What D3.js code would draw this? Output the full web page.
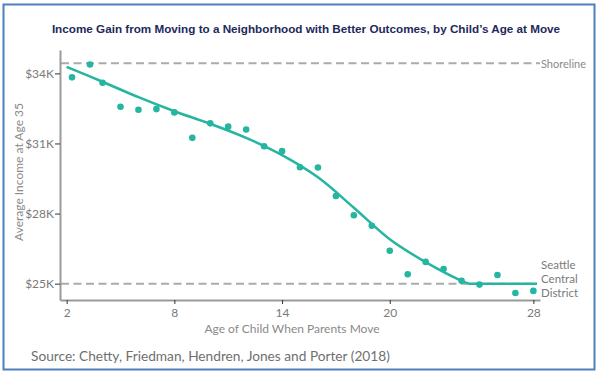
<!DOCTYPE html>
<html>
<head>
<meta charset="utf-8">
<script src="https://cdn.jsdelivr.net/npm/d3@7"></script>
<style>
  body { margin: 0; background: #fff; }
  svg text { font-family: Lato, "Open Sans", sans-serif; }
</style>
</head>
<body>
<svg id="chart" width="600" height="375"></svg>
<script>
// data
const ages = [2.3, 3.3, 4, 5, 6, 7, 8, 9, 10, 11, 12, 13, 14, 15, 16, 17, 18, 19, 20, 21, 22, 23, 24, 25, 26, 27, 28];
const incomes = [33.83, 34.38, 33.60, 32.57, 32.44, 32.47, 32.33, 31.24, 31.86, 31.72, 31.60, 30.88, 30.67,
  29.98, 29.97, 28.75, 27.93, 27.48, 26.41, 25.40, 25.93, 25.63, 25.12, 24.96, 25.37, 24.60, 24.69];

// fitted curve (curved part, then flat at the floor)
const fitAges = [2, 4, 6, 8, 10, 12, 14, 16, 18, 20, 22, 24, 24.4];
const fitIncomes = [34.28, 33.64, 32.98, 32.38, 31.84, 31.24, 30.50, 29.55, 28.25, 26.90, 25.92, 25.12, 25.0];
const flatAges = [24.4, 28.2];
const flatIncomes = [25.0, 25.0];

const xTicks = [2, 8, 14, 20, 28];
const yTicks = [25, 28, 31, 34];

const shorelineValue = 34.43;
const centralValue = 25;

const teal = "#26b5a0";
const svg = d3.select("#chart");

// frame
svg.append("rect")
  .attr("x", 3.5).attr("y", 4.5).attr("width", 591).attr("height", 365)
  .attr("fill", "none").attr("stroke", "#4f7fbd").attr("stroke-width", 2);

svg.append("text")
  .attr("x", 306).attr("y", 33)
  .attr("text-anchor", "middle")
  .style("font-family", "'Liberation Sans', Arial, sans-serif")
  .style("font-weight", "bold")
  .style("font-size", "11.7px")
  .attr("fill", "#1d2a5c")
  .text("Income Gain from Moving to a Neighborhood with Better Outcomes, by Child\u2019s Age at Move");

let xScale = d3.scaleLinear().domain([1.63, 28.37]).range([60, 540]);
let yScale = d3.scaleLinear().domain([24.3, 35]).range([300, 50]);

// reference lines
const refs = [shorelineValue, centralValue];
svg.selectAll(".ref")
  .data(refs)
  .join("line")
  .attr("class", "ref")
  .attr("x1", 61)
  .attr("x2", (d, i) => i == 0 ? 540 : 537)
  .attr("y1", d => yScale(d))
  .attr("y2", d => yScale(d))
  .attr("stroke", "#ababab")
  .attr("stroke-width", 2)
  .attr("stroke-dasharray", "8,4.5");

// axes
let yAxis = svg.append("g")
  .attr("transform", "translate(60,0)")
  .call(d3.axisLeft(yScale).tickValues(yTicks).tickSize(5).tickSizeOuter(0).tickFormat(d => "$" + d + "K"));
let xAxis = svg.append("g")
  .attr("transform", "translate(0,300)")
  .call(d3.axisBottom(xScale).tickValues(xTicks).tickSize(4).tickSizeOuter(0));

[yAxis, xAxis].forEach(function (ax) {
  ax.select(".domain").attr("stroke", "#9a9a9a").attr("stroke-width", 2);
  ax.selectAll(".tick line").attr("stroke", "#333");
  ax.selectAll(".tick text")
    .attr("fill", "#7a7a7a")
    .style("font-family", "Lato, sans-serif")
    .style("font-size", "12px");
});
yAxis.selectAll(".tick text").attr("x", -6);
xAxis.selectAll(".tick text").attr("y", 8);

svg.append("text")
  .attr("transform", "translate(23,172) rotate(-90)")
  .attr("text-anchor", "middle")
  .attr("fill", "#8a8a8a")
  .style("font-size", "12px")
  .text("Average Income at Age 35");

svg.append("text")
  .attr("x", 292).attr("y", 333)
  .attr("text-anchor", "middle")
  .attr("fill", "#8a8a8a")
  .style("font-size", "12px")
  .text("Age of Child When Parents Move");

svg.append("text")
  .attr("x", 31).attr("y", 361)
  .attr("fill", "#6f6f6f")
  .style("font-size", "13.7px")
  .text("Source: Chetty, Friedman, Hendren, Jones and Porter (2018)");

svg.append("text")
  .attr("x", 541).attr("y", 67.5)
  .attr("fill", "#8a8a8a")
  .style("font-size", "11px")
  .text("Shoreline");

svg.append("text")
  .attr("fill", "#7a7a7a")
  .style("font-size", "11.5px")
  .selectAll("tspan")
  .data(["Seattle", "Central", "District"])
  .join("tspan")
  .attr("x", 541)
  .attr("y", (d, i) => 269 + i * 14)
  .text(d => d);

// fitted line: smooth part + flat part
const fitLine = d3.line()
  .x(d => xScale(d[0]))
  .y(d => yScale(d[1]));

svg.append("path")
  .datum(fitAges.map((a, i) => [a, fitIncomes[i]]))
  .attr("fill", "none")
  .attr("stroke", teal)
  .attr("stroke-width", 2.5)
  .attr("stroke-linejoin", "round")
  .attr("d", fitLine.curve(d3.curveCatmullRom.alpha(0.5)));

svg.append("path")
  .datum(flatAges.map((a, i) => [a, flatIncomes[i]]))
  .attr("fill", "none")
  .attr("stroke", teal)
  .attr("stroke-width", 2.5)
  .attr("d", fitLine.curve(d3.curveLinear));

// points
svg.selectAll(".dot")
  .data(ages.map((a, i) => ({ age: a, income: incomes[i] })))
  .join("circle")
  .attr("class", "dot")
  .attr("cx", d => xScale(d.age))
  .attr("cy", d => yScale(d.income))
  .attr("r", 3.3)
  .attr("fill", teal);
</script>
</body>
</html>
